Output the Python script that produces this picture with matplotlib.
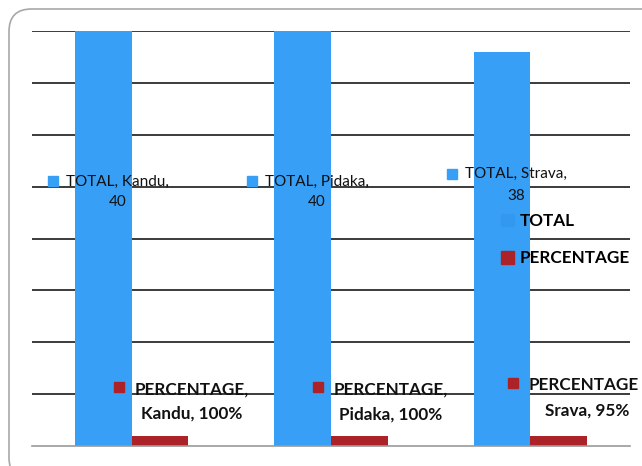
import matplotlib as mpl
mpl.use('Agg')
import matplotlib.pyplot as plt
from matplotlib.patches import FancyBboxPatch, Patch
import numpy as np

# data
categories = ['Kandu', 'Pidaka', 'Srava']
label_names = ['Kandu', 'Pidaka', 'Strava']
total = [40, 40, 38]
percentage = [1.0, 1.0, 0.95]
pct_text = ['100%', '100%', '95%']

blue = '#37a0f6'
red = '#ab2328'

plt.rcParams['font.family'] = ['Lato', 'DejaVu Sans']

fig = plt.figure(figsize=(6.42, 4.66), dpi=100)
ax = fig.add_axes([32 / 642, 20 / 466, 598 / 642, 415 / 466])

# rounded outer frame
frame = FancyBboxPatch((9 / 642, -14 / 466), 660 / 642, 471 / 466,
                       boxstyle='round,pad=0,rounding_size=0.035',
                       transform=fig.transFigure, fc='none', ec='#a8a8a8', lw=1.2,
                       mutation_aspect=642 / 466)
fig.patches.append(frame)

x = np.arange(len(categories))
w = 0.285
ax.bar(x - w / 2, total, width=w, color=blue, zorder=2)
ax.bar(x + w / 2, percentage, width=w, color=red, zorder=2)

ax.set_xlim(-0.5, 2.5)
ax.set_ylim(0, 40)
ax.set_yticks(range(5, 41, 5))
ax.yaxis.grid(True, color='#1a1a1a', lw=1.2, zorder=0)
ax.set_axisbelow(True)
ax.tick_params(left=False, bottom=False, labelleft=False, labelbottom=False)
for s in ['top', 'right', 'left']:
    ax.spines[s].set_visible(False)
ax.spines['bottom'].set_color('#9a9a9a')
ax.spines['bottom'].set_linewidth(1.2)

# TOTAL data labels
ty1 = [25.5, 25.5, 26.2]
ty2 = [23.5, 23.5, 24.1]
for i in range(len(categories)):
    ax.plot(i - 0.395, ty1[i] + 0.05, marker='s', ms=7, color=blue, zorder=4, clip_on=False)
    ax.text(i - 0.07, ty1[i], 'TOTAL, %s,' % label_names[i], ha='center', va='center',
            fontsize=11, color='#111111', zorder=5)
    ax.text(i - 0.07, ty2[i], str(total[i]), ha='center', va='center',
            fontsize=11, color='#111111', zorder=5)

# PERCENTAGE data labels
py1 = [5.45, 5.45, 5.9]
py2 = [3.15, 3.05, 3.4]
first = ['PERCENTAGE,', 'PERCENTAGE,', 'PERCENTAGE']
for i in range(len(categories)):
    sx = i - 0.065 if i < 2 else i - 0.087
    ax.plot(sx, py1[i] + 0.2, marker='s', ms=7, color=red, zorder=4, clip_on=False)
    cx = i + 0.30 if i < 2 else i + 0.27
    ax.text(cx, py1[i], first[i], ha='center', va='center',
            fontsize=12.3, fontweight='bold', color='#111111', zorder=5)
    ax.text(cx + (0.015 if i == 2 else 0), py2[i], '%s, %s' % (categories[i], pct_text[i]),
            ha='center', va='center', fontsize=12.3, fontweight='bold', color='#111111', zorder=5)

# legend
handles = [Patch(color='#3399f0'), Patch(color=red)]
ax.legend(handles, ['TOTAL', 'PERCENTAGE'], loc='upper left',
          bbox_to_anchor=(501 / 642, 1 - 213 / 466), bbox_transform=fig.transFigure,
          frameon=False, handlelength=0.75, handleheight=0.75, handletextpad=0.35,
          labelspacing=1.25, borderpad=0, borderaxespad=0,
          prop={'weight': 'bold', 'size': 12.3})

fig.savefig('out.png', dpi=100)
